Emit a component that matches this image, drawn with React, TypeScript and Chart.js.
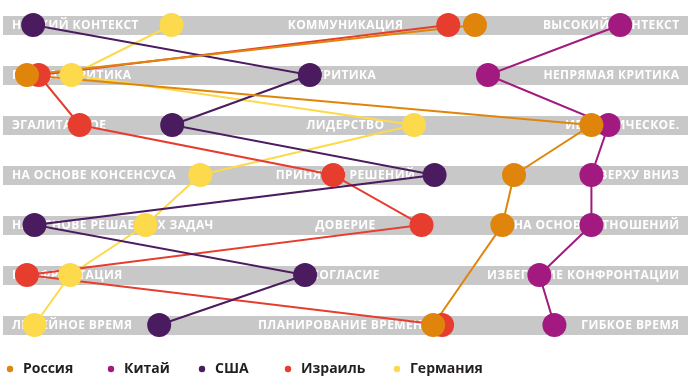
import React, { useEffect, useRef } from "react";
import { Chart, registerables } from "chart.js";

Chart.register(...registerables);

// Dimensions (rows, top to bottom)
const leftLabels = [
  "НИЗКИЙ КОНТЕКСТ",
  "ПРЯМАЯ КРИТИКА",
  "ЭГАЛИТАРНОЕ",
  "НА ОСНОВЕ КОНСЕНСУСА",
  "НА ОСНОВЕ РЕШАЕМЫХ ЗАДАЧ",
  "КОНФРОНТАЦИЯ",
  "ЛИНЕЙНОЕ ВРЕМЯ",
];
const centerLabels = [
  "КОММУНИКАЦИЯ",
  "КРИТИКА",
  "ЛИДЕРСТВО",
  "ПРИНЯТИЕ РЕШЕНИЙ",
  "ДОВЕРИЕ",
  "СОГЛАСИЕ",
  "ПЛАНИРОВАНИЕ ВРЕМЕНИ",
];
const rightLabels = [
  "ВЫСОКИЙ КОНТЕКСТ",
  "НЕПРЯМАЯ КРИТИКА",
  "ИЕРАРХИЧЕСКОЕ.",
  "СВЕРХУ ВНИЗ",
  "НА ОСНОВЕ ОТНОШЕНИЙ",
  "ИЗБЕГАНИЕ КОНФРОНТАЦИИ",
  "ГИБКОЕ ВРЕМЯ",
];

// Country positions on each scale (0 = left end, 100 = right end)
const russia: (number | null)[] = [68.9, 3.5, 85.9, 74.6, 72.9, null, 62.8];
const china: (number | null)[] = [90.1, 70.8, 88.4, 85.9, 85.9, 78.3, 80.5];
const usa: (number | null)[] = [4.4, 44.8, 24.7, 63.0, 4.6, 44.1, 22.8];
const israel: (number | null)[] = [65.0, 5.2, 11.2, 48.2, 61.1, 3.5, 64.1];
const germany: (number | null)[] = [24.6, 10.0, 60.0, 28.8, 20.8, 9.8, 4.6];

const countryNames = ["Россия", "Китай", "США", "Израиль", "Германия"];
const countryValues = [russia, china, usa, israel, germany];
const countryColors = ["#e0850c", "#a2197f", "#4b1b5f", "#e63d2f", "#fdd94c"];

const BAND_COLOR = "#c8c8c8";
const LABEL_FONT = "bold 12px 'Open Sans', sans-serif";
const LEGEND_X = [10, 111, 202, 288, 397];

const toPoints = (vals: (number | null)[]) =>
  vals
    .map((v, i) => (v === null ? null : { x: v, y: i }))
    .filter((p) => p !== null) as { x: number; y: number }[];

const bandsPlugin = {
  id: "bands",
  beforeDatasetsDraw(chart: any) {
    const { ctx, chartArea, scales } = chart;
    const ys = scales.y;
    ctx.save();
    for (let i = 0; i < leftLabels.length; i++) {
      const yc = ys.getPixelForValue(i);
      ctx.fillStyle = BAND_COLOR;
      ctx.fillRect(chartArea.left, yc - 9, chartArea.right - chartArea.left, 19);
      ctx.fillStyle = "#ffffff";
      ctx.font = LABEL_FONT;
      (ctx as any).letterSpacing = "0.4px";
      ctx.textBaseline = "middle";
      const ty = yc + 1;
      ctx.textAlign = "left";
      ctx.fillText(leftLabels[i], chartArea.left + 9, ty);
      ctx.textAlign = "center";
      ctx.fillText(centerLabels[i], (chartArea.left + chartArea.right) / 2, ty);
      ctx.textAlign = "right";
      ctx.fillText(rightLabels[i], chartArea.right - 8.5, ty);
    }
    ctx.restore();
  },
};

const legendPlugin = {
  id: "customLegend",
  afterDraw(chart: any) {
    const { ctx } = chart;
    const y = 369;
    ctx.save();
    ctx.font = "bold 14px 'Open Sans', sans-serif";
    ctx.textBaseline = "middle";
    ctx.textAlign = "left";
    countryNames.forEach((name, k) => {
      const x = LEGEND_X[k];
      ctx.fillStyle = countryColors[k];
      ctx.beginPath();
      ctx.arc(x, y, 3.2, 0, Math.PI * 2);
      ctx.fill();
      ctx.fillStyle = "#231f20";
      ctx.fillText(name, x + 13, y);
    });
    ctx.restore();
  },
};

export default function App() {
  const canvasRef = useRef<HTMLCanvasElement | null>(null);

  useEffect(() => {
    if (!canvasRef.current) return;
    // Lines under all dots; dots drawn with Russia on top.
    const lineSets = countryNames.map((name, k) => ({
      label: name + " (линия)",
      data: toPoints(countryValues[k]),
      showLine: true,
      borderColor: countryColors[k],
      backgroundColor: countryColors[k],
      borderWidth: 2,
      pointRadius: 0,
      pointHoverRadius: 0,
      tension: 0,
      order: 1,
    }));
    const dotSets = countryNames.map((name, k) => ({
      label: name,
      data: toPoints(countryValues[k]),
      showLine: false,
      borderColor: countryColors[k],
      backgroundColor: countryColors[k],
      pointRadius: 12,
      pointHoverRadius: 12,
      pointBorderWidth: 0,
      pointBackgroundColor: countryColors[k],
      order: 0,
    }));
    const chart = new Chart(canvasRef.current, {
      type: "scatter",
      data: { datasets: [...dotSets, ...lineSets] },
      options: {
        animation: false,
        responsive: true,
        maintainAspectRatio: false,
        events: [],
        layout: { autoPadding: false, padding: { left: 3, right: 3, top: 0, bottom: 27 } },
        plugins: {
          legend: { display: false },
          tooltip: { enabled: false },
        },
        scales: {
          x: { type: "linear", min: 0, max: 100, display: false },
          y: { type: "linear", min: -0.5, max: 6.5, reverse: true, display: false },
        },
      },
      plugins: [bandsPlugin, legendPlugin],
    });
    return () => chart.destroy();
  }, []);

  return (
    <div style={{ position: "absolute", left: 0, top: 0, width: 691, height: 377, background: "#fff" }}>
      <canvas ref={canvasRef} />
    </div>
  );
}
